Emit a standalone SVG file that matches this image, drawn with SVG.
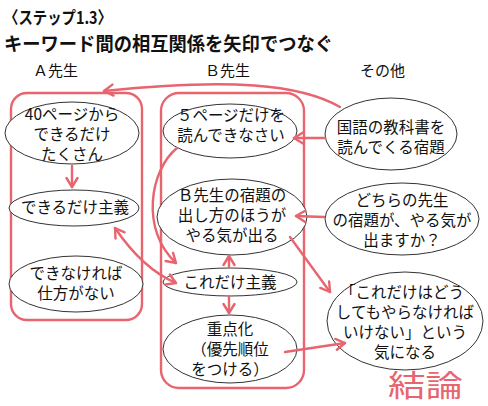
<svg xmlns="http://www.w3.org/2000/svg" width="488" height="406" viewBox="0 0 488 406">
<defs>
<marker id="ah" viewBox="-11 -7 13 14" refX="0" refY="0" markerWidth="13" markerHeight="14" markerUnits="userSpaceOnUse" orient="auto-start-reverse">
<path d="M -9 -5.5 L 0 0 L -9 5.5" fill="none" stroke="#e8646e" stroke-width="2.4" stroke-linecap="round" stroke-linejoin="round"/>
</marker>
</defs>
<style>
text{font-family:"Noto Sans CJK JP","Noto Sans",sans-serif;fill:#111;}
.t{font-size:15.5px;text-anchor:middle;}
.h{font-size:15px;}
.ttl{font-weight:bold;}
ellipse{fill:#fff;stroke:#333;stroke-width:1;}
.grp{fill:none;stroke:#e8646e;stroke-width:2.4;}
.c{fill:none;stroke:#e8646e;stroke-width:2.4;stroke-linecap:round;}
.a{marker-end:url(#ah);}
</style>
<rect width="488" height="406" fill="#fff"/>
<g id="title">
<text class="ttl" x="4" y="24" font-size="17" textLength="108" lengthAdjust="spacingAndGlyphs">〈ステップ1.3〉</text>
<text class="ttl" x="4" y="51" font-size="19" textLength="329" lengthAdjust="spacingAndGlyphs">キーワード間の相互関係を矢印でつなぐ</text>
</g>
<g id="headers">
<text class="h" x="33" y="76">Ａ先生</text>
<text class="h" x="205" y="76">Ｂ先生</text>
<text class="h" x="360" y="76">その他</text>
</g>
<g id="groupA"><rect class="grp" x="11" y="93" width="131" height="227" rx="16"/></g>
<g id="groupB"><rect class="grp" x="161" y="93" width="143" height="295" rx="18"/></g>
<g id="n1"><ellipse cx="72" cy="133" rx="67" ry="31"/>
<text class="t" x="72" y="120">40ページから</text><text class="t" x="72" y="140">できるだけ</text><text class="t" x="72" y="160">たくさん</text></g>
<g id="n2"><ellipse cx="74" cy="208" rx="65" ry="18"/>
<text class="t" x="75" y="213">できるだけ主義</text></g>
<g id="n3"><ellipse cx="76" cy="284" rx="67" ry="28"/>
<text class="t" x="76" y="279">できなければ</text><text class="t" x="76" y="299">仕方がない</text></g>
<g id="n4"><ellipse cx="230" cy="131" rx="67" ry="27"/>
<text class="t" x="231" y="121">５ページだけを</text><text class="t" x="231" y="141">読んできなさい</text></g>
<g id="n5"><ellipse cx="232" cy="217" rx="75" ry="38"/>
<text class="t" x="232" y="201">Ｂ先生の宿題の</text><text class="t" x="232" y="221">出し方のほうが</text><text class="t" x="232" y="241">やる気が出る</text></g>
<g id="n6"><ellipse cx="230" cy="282" rx="67" ry="14"/>
<text class="t" x="230" y="288">これだけ主義</text></g>
<g id="n7"><ellipse cx="230" cy="349" rx="67" ry="34"/>
<text class="t" x="230" y="335">重点化</text><text class="t" x="230" y="355">（優先順位</text><text class="t" x="230" y="375">をつける）</text></g>
<g id="n8"><ellipse cx="391" cy="134" rx="66" ry="36"/>
<text class="t" x="391" y="133">国語の教科書を</text><text class="t" x="391" y="153">読んでくる宿題</text></g>
<g id="n9"><ellipse cx="402" cy="219" rx="77" ry="36"/>
<text class="t" x="402" y="206">どちらの先生</text><text class="t" x="402" y="226">の宿題が、やる気が</text><text class="t" x="402" y="246">出ますか？</text></g>
<g id="n10"><ellipse cx="405" cy="321" rx="78" ry="49"/>
<text class="t" x="402" y="298">「これだけはどう</text><text class="t" x="405" y="318">してもやらなければ</text><text class="t" x="405" y="338">いけない」という</text><text class="t" x="405" y="358">気になる</text></g>
<g id="connectors">
<path class="c a" d="M 72 166 L 72 187"/>
<path class="c a" d="M 340 107 C 300 84, 230 78, 104 91"/>
<path class="c a" d="M 325 138 L 294 138"/>
<path class="c a" d="M 324 217 L 296 216"/>
<path class="c a" d="M 290 237 L 330 292"/>
<path class="c a" d="M 285 352 L 345 343"/>
<path class="c a" d="M 229 297 L 229 313"/>
<path class="c a" d="M 229 267 L 229 256"/>
<path class="c a" d="M 177 148 C 150 170, 140 230, 176 263"/>
<path class="c a" d="M 115 228 C 130 250, 150 272, 176 283" marker-start="url(#ah)"/>
</g>
<text x="388" y="396" font-size="30" textLength="75" lengthAdjust="spacingAndGlyphs" style="fill:#e8646e">結論</text>
</svg>
